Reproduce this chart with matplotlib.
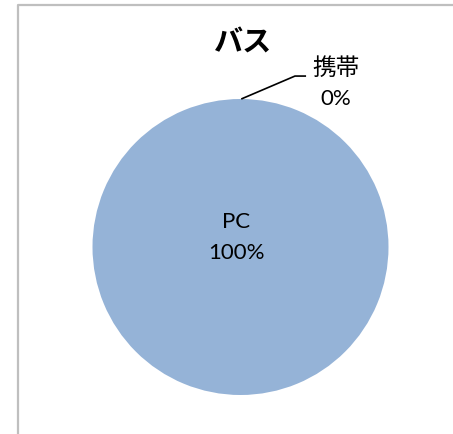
import numpy as np
import matplotlib.pyplot as plt

plt.rcParams['font.family'] = ['Noto Sans CJK JP', 'DejaVu Sans']
latin = ['Lato', 'Noto Sans CJK JP']

title = 'バス'
labels = ['PC', '携帯']
values = [100, 0]
colors = ['#95B3D7', '#C0504D']

W, H = 453, 434
fig = plt.figure(figsize=(W / 100, H / 100), dpi=100)

# pie: radius 148 px, centre at (240.5, 247) from top-left
r = 148
cx, cy = 240.5, 247
ax = fig.add_axes([(cx - r) / W, (H - cy - r) / H, 2 * r / W, 2 * r / H])
wedges, _ = ax.pie(values, colors=colors, startangle=90, counterclock=False,
                   radius=1, wedgeprops=dict(linewidth=0))
ax.set_xlim(-1, 1)
ax.set_ylim(-1, 1)
ax.set_aspect('equal')
ax.axis('off')

total = sum(values)
pct = [round(v / total * 100) for v in values]

# label for the big slice, inside
ax.text(-0.03, (cy - 222) / r, labels[0], ha='center', va='center',
        fontsize=16, family=latin)
ax.text(-0.03, (cy - 253) / r, '%d%%' % pct[0], ha='center', va='center',
        fontsize=16, family=latin)

# leader line for the zero slice, at the top of the circle
ang = np.deg2rad(90 - 360 * values[0] / total)
px, py = np.cos(ang), np.sin(ang)
ax.plot([px + 0.005, 0.368, 0.443], [py, 1.155, 1.155], color='black', lw=1.2,
        clip_on=False, solid_capstyle='butt')
ax.text((336 - cx) / r, (cy - 68) / r, labels[1], ha='center', va='center', fontsize=17)
ax.text((336 - cx) / r, (cy - 99) / r, '%d%%' % pct[1], ha='center', va='center',
        fontsize=16, family=latin)

fig.text(243 / W, 1 - 43 / H, title, ha='center', va='center',
         fontsize=21, fontweight='bold')

# chart area border (only left and top visible)
bx, by = 18 / W, 1 - 4.5 / H
fig.add_artist(plt.Line2D([bx, bx, 1.01], [-0.01, by, by], color='#BFBFBF',
                          lw=1.6, transform=fig.transFigure))

fig.savefig('out.png', dpi=100)
